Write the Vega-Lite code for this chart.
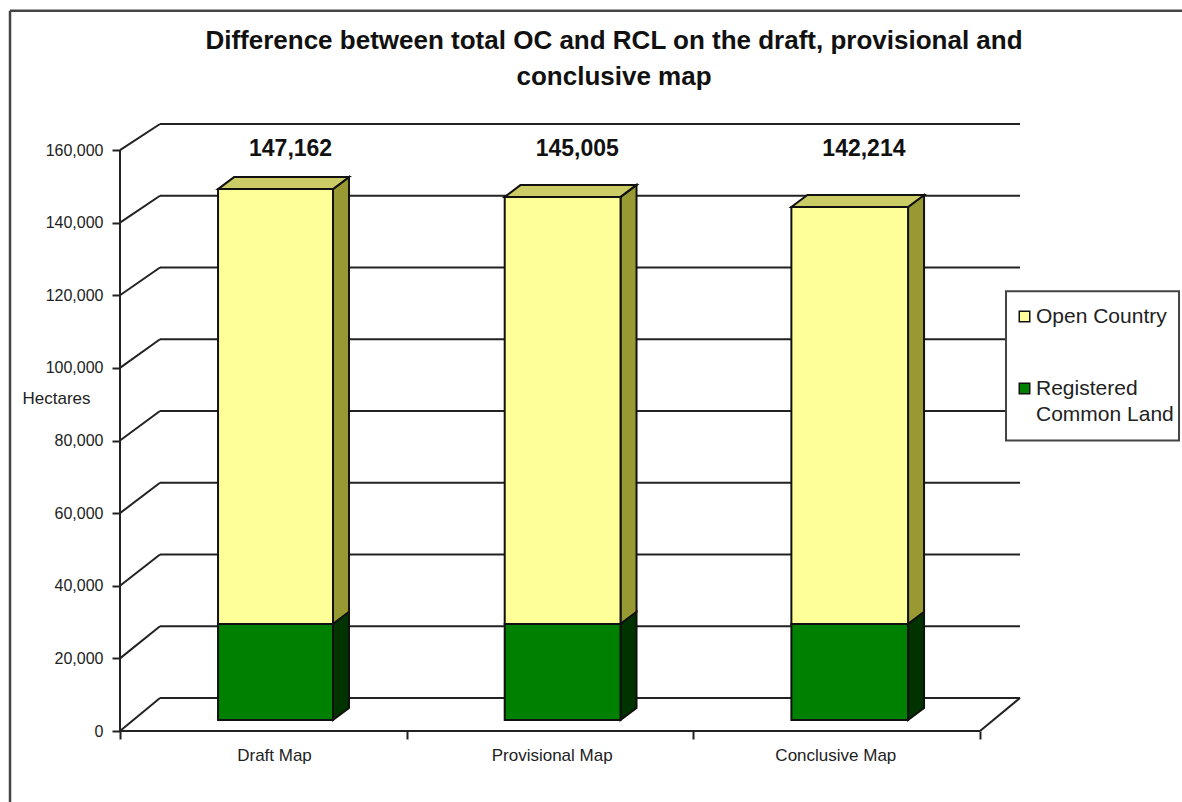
{
"$schema":"https://vega.github.io/schema/vega-lite/v6.json",
"width":900,"height":607,"autosize":"none",
"padding":{"left":120,"top":124,"right":162,"bottom":71},
"background":"#ffffff",
"view":{"stroke":null},
"title":{"text":["Difference between total OC and RCL on the draft, provisional and","conclusive map"],"font":"Liberation Sans","fontSize":26,"fontWeight":"bold","color":"#111111","anchor":"middle","dx":44,"offset":-80,"lineHeight":36},
"datasets":{
"one":[{"k":1}],
"bars":[
{"map":"Draft Map","slot":0,"series":"Registered Common Land","value":26600},
{"map":"Draft Map","slot":0,"series":"Open Country","value":120562},
{"map":"Provisional Map","slot":1,"series":"Registered Common Land","value":26600},
{"map":"Provisional Map","slot":1,"series":"Open Country","value":118405},
{"map":"Conclusive Map","slot":2,"series":"Registered Common Land","value":26600},
{"map":"Conclusive Map","slot":2,"series":"Open Country","value":115614}
],
"grid":[{"tick":0},{"tick":20000},{"tick":40000},{"tick":60000},{"tick":80000},{"tick":100000},{"tick":120000},{"tick":140000},{"tick":160000}]
},
"layer":[
{"data":{"name":"grid"},"transform":[{"calculate":"datum.tick*0.988+9100","as":"back"}],
 "mark":{"type":"rule","color":"#222222","strokeWidth":2},
 "encoding":{"x":{"datum":0,"type":"quantitative","scale":{"domain":[0,3.1395],"nice":false,"zero":false},
   "axis":{"values":[0,1,2,3],"title":null,"domain":false,"grid":false,"tickSize":8,"tickWidth":2,"tickColor":"#222222","labelFont":"Liberation Sans","labelFontSize":17,"labelColor":"#222222","labelPadding":8,"labelFlush":false,"labelOverlap":false,"labelOffset":{"expr":"datum.value==0?154:datum.value==1?145:142"},"labelExpr":"datum.value==0?'Draft Map':datum.value==1?'Provisional Map':datum.value==2?'Conclusive Map':''"}},
  "x2":{"datum":0.1395},
  "y":{"field":"tick","type":"quantitative","scale":{"domain":[0,167172],"nice":false,"zero":false},
   "axis":{"values":[0,20000,40000,60000,80000,100000,120000,140000,160000],"labelExpr":"format(datum.value,',')","title":"Hectares","titleFont":"Liberation Sans","titleFontSize":17,"titleFontWeight":"normal","titleColor":"#222222","titleAngle":0,"titleX":-64,"titleY":274,"titleAlign":"center","titleBaseline":"middle","domain":false,"grid":false,"tickSize":8,"tickWidth":2,"tickColor":"#222222","labelFont":"Liberation Sans","labelFontSize":16,"labelColor":"#222222","labelPadding":9,"labelFlush":false,"labelOverlap":false}},
  "y2":{"field":"back"}}},
{"data":{"name":"grid"},"transform":[{"calculate":"datum.tick*0.988+9100","as":"back"}],
 "mark":{"type":"rule","color":"#222222","strokeWidth":2},
 "encoding":{"x":{"datum":0.1395,"type":"quantitative","scale":{"domain":[0,3.1395],"nice":false,"zero":false}},"x2":{"datum":3.1395},
  "y":{"field":"back","type":"quantitative","scale":{"domain":[0,167172],"nice":false,"zero":false}}}},
{"data":{"name":"one"},"mark":{"type":"rule","color":"#222222","strokeWidth":2},
 "encoding":{"x":{"datum":0,"type":"quantitative","scale":{"domain":[0,3.1395],"nice":false,"zero":false}},
  "y":{"datum":0,"type":"quantitative","scale":{"domain":[0,167172],"nice":false,"zero":false}},"y2":{"datum":160000}}},
{"data":{"name":"one"},"mark":{"type":"rule","color":"#222222","strokeWidth":2},
 "encoding":{"x":{"datum":0,"type":"quantitative","scale":{"domain":[0,3.1395],"nice":false,"zero":false}},"x2":{"datum":3},
  "y":{"datum":0,"type":"quantitative","scale":{"domain":[0,167172],"nice":false,"zero":false}}}},
{"data":{"name":"one"},"mark":{"type":"rule","color":"#222222","strokeWidth":2},
 "encoding":{"x":{"datum":3,"type":"quantitative","scale":{"domain":[0,3.1395],"nice":false,"zero":false}},"x2":{"datum":3.1395},
  "y":{"datum":0,"type":"quantitative","scale":{"domain":[0,167172],"nice":false,"zero":false}},"y2":{"datum":9100}}},
{"data":{"name":"one"},"mark":{"type":"rule","color":"#444444","strokeWidth":2.5},
 "encoding":{"x":{"datum":-0.3837,"type":"quantitative","scale":{"domain":[0,3.1395],"nice":false,"zero":false}},
  "y":{"datum":198345,"type":"quantitative","scale":{"domain":[0,167172],"nice":false,"zero":false}},"y2":{"datum":-19586}}},
{"data":{"name":"one"},"mark":{"type":"rule","color":"#444444","strokeWidth":2.5},
 "encoding":{"x":{"datum":-0.3837,"type":"quantitative","scale":{"domain":[0,3.1395],"nice":false,"zero":false}},"x2":{"datum":3.705},
  "y":{"datum":198345,"type":"quantitative","scale":{"domain":[0,167172],"nice":false,"zero":false}}}},
{"data":{"name":"one"},"mark":{"type":"rect","fill":"#ffffff","stroke":"#444444","strokeWidth":2},
 "encoding":{"x":{"datum":3.0907,"type":"quantitative","scale":{"domain":[0,3.1395],"nice":false,"zero":false}},"x2":{"datum":3.6942},
  "y":{"datum":121103,"type":"quantitative","scale":{"domain":[0,167172],"nice":false,"zero":false}},"y2":{"datum":80000}}},
{"data":{"name":"bars"},
 "transform":[
  {"stack":"value","groupby":["map"],"sort":[{"field":"series","order":"descending"}],"as":["s0","s1"]},
  {"calculate":"datum.slot+0.743+0.003*datum.slot","as":"R"},
  {"calculate":"datum.s0*0.9935+3034","as":"low"},
  {"calculate":"datum.s1*0.9935+3034","as":"high"},
  {"filter":"datum.series=='Open Country'"},
  {"calculate":"0","as":"front"},{"calculate":"1","as":"back"},
  {"fold":["front","back"],"as":["edge","k"]},
  {"calculate":"datum.R+0.0558*datum.k","as":"xs"},
  {"calculate":"datum.low+3310*datum.k","as":"ylo"},
  {"calculate":"datum.high+3310*datum.k","as":"yhi"}],
 "mark":{"type":"area","orient":"vertical","fill":"#999933","stroke":"#111111","strokeWidth":2},
 "encoding":{"x":{"field":"xs","type":"quantitative","scale":{"domain":[0,3.1395],"nice":false,"zero":false}},
  "y":{"field":"ylo","type":"quantitative","stack":null,"scale":{"domain":[0,167172],"nice":false,"zero":false}},"y2":{"field":"yhi"},"detail":{"field":"map"}}},
{"data":{"name":"bars"},
 "transform":[
  {"stack":"value","groupby":["map"],"sort":[{"field":"series","order":"descending"}],"as":["s0","s1"]},
  {"calculate":"datum.slot+0.743+0.003*datum.slot","as":"R"},
  {"calculate":"datum.s0*0.9935+3034","as":"low"},
  {"calculate":"datum.s1*0.9935+3034","as":"high"},
  {"filter":"datum.series!='Open Country'"},
  {"calculate":"0","as":"front"},{"calculate":"1","as":"back"},
  {"fold":["front","back"],"as":["edge","k"]},
  {"calculate":"datum.R+0.0558*datum.k","as":"xs"},
  {"calculate":"datum.low+3310*datum.k","as":"ylo"},
  {"calculate":"datum.high+3310*datum.k","as":"yhi"}],
 "mark":{"type":"area","orient":"vertical","fill":"#003300","stroke":"#111111","strokeWidth":2},
 "encoding":{"x":{"field":"xs","type":"quantitative","scale":{"domain":[0,3.1395],"nice":false,"zero":false}},
  "y":{"field":"ylo","type":"quantitative","stack":null,"scale":{"domain":[0,167172],"nice":false,"zero":false}},"y2":{"field":"yhi"},"detail":{"field":"map"}}},
{"data":{"name":"bars"},
 "transform":[
  {"stack":"value","groupby":["map"],"sort":[{"field":"series","order":"descending"}],"as":["s0","s1"]},
  {"calculate":"datum.slot+0.342","as":"L"},
  {"calculate":"datum.slot+0.743+0.003*datum.slot","as":"R"},
  {"calculate":"datum.s1*0.9935+3034","as":"high"},
  {"filter":"datum.series=='Open Country'"},
  {"calculate":"0","as":"front"},{"calculate":"1","as":"back"},
  {"fold":["front","back"],"as":["edge","k"]},
  {"calculate":"datum.L+0.0558*datum.k","as":"xa"},
  {"calculate":"datum.R+0.0558*datum.k","as":"xb"},
  {"calculate":"datum.high+3310*datum.k","as":"yt"}],
 "mark":{"type":"area","orient":"horizontal","fill":"#CCCC66","stroke":"#111111","strokeWidth":2},
 "encoding":{"y":{"field":"yt","type":"quantitative","scale":{"domain":[0,167172],"nice":false,"zero":false}},
  "x":{"field":"xa","type":"quantitative","stack":null,"scale":{"domain":[0,3.1395],"nice":false,"zero":false}},"x2":{"field":"xb"},"detail":{"field":"map"}}},
{"data":{"name":"bars"},
 "transform":[
  {"stack":"value","groupby":["map"],"sort":[{"field":"series","order":"descending"}],"as":["s0","s1"]},
  {"calculate":"datum.slot+0.342","as":"L"},
  {"calculate":"datum.slot+0.743+0.003*datum.slot","as":"R"},
  {"calculate":"datum.s0*0.9935+3034","as":"low"},
  {"calculate":"datum.s1*0.9935+3034","as":"high"}],
 "mark":{"type":"rect","stroke":"#111111","strokeWidth":2},
 "encoding":{"x":{"field":"L","type":"quantitative","scale":{"domain":[0,3.1395],"nice":false,"zero":false}},"x2":{"field":"R"},
  "y":{"field":"low","type":"quantitative","scale":{"domain":[0,167172],"nice":false,"zero":false}},"y2":{"field":"high"},
  "fill":{"field":"series","type":"nominal","scale":{"domain":["Open Country","Registered Common Land"],"range":["#FFFF99","#008000"]},
   "legend":{"title":null,"orient":"none","legendX":882,"legendY":170,"padding":12,"symbolType":"square","symbolSize":110,"symbolStrokeColor":"#111111","symbolStrokeWidth":1.5,"labelFont":"Liberation Sans","labelFontSize":21,"labelColor":"#222222","labelLimit":300,"labelOffset":1,"rowPadding":50,"labelExpr":"datum.label=='Registered Common Land'?['Registered','Common Land']:datum.label","encode":{"labels":{"update":{"lineHeight":{"value":26}}}}}}}},
{"data":{"name":"bars"},
 "transform":[
  {"aggregate":[{"op":"sum","field":"value","as":"total"}],"groupby":["map","slot"]},
  {"calculate":"datum.slot+0.595","as":"cx"}],
 "mark":{"type":"text","font":"Liberation Sans","fontSize":23,"fontWeight":"bold","color":"#111111","baseline":"middle"},
 "encoding":{"x":{"field":"cx","type":"quantitative","scale":{"domain":[0,3.1395],"nice":false,"zero":false}},
  "y":{"datum":160400,"type":"quantitative","scale":{"domain":[0,167172],"nice":false,"zero":false}},
  "text":{"field":"total","type":"quantitative","format":","}}}
]
}
